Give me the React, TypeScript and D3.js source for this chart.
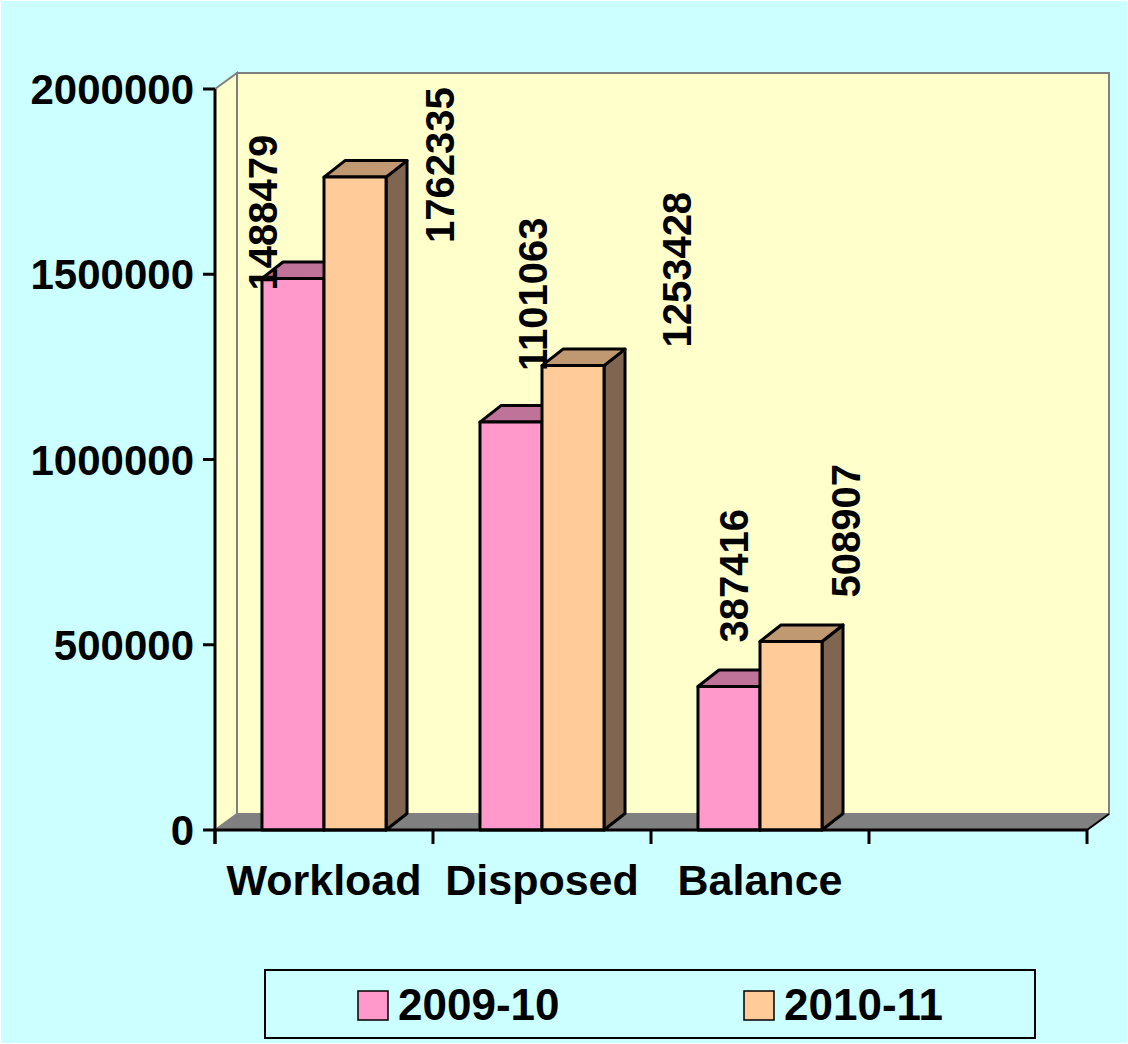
import React from 'react';
import * as d3 from 'd3';

const categories = ['Workload', 'Disposed', 'Balance'];
const seriesNames = ['2009-10', '2010-11'];
const values2009 = [1488479, 1101063, 387416];
const values2010 = [1762335, 1253428, 508907];
const yTicks = [0, 500000, 1000000, 1500000, 2000000];

// Excel placed the rotated value labels unevenly; offsets from each bar's front-top-left corner
const labelNudge = [
  [[15, 12], [130, 66]],
  [[67, -51], [149, -18]],
  [[50, -44], [100, -44]],
];

const W = 1128;
const H = 1044;
const font = '"Liberation Sans", Arial, sans-serif';
const fills = ['#FF99CC', '#FFCC99'];
const tops = ['#C07399', '#C09973'];
const sides = ['#804D66', '#806650'];

export default function App() {
  const margin = { left: 215, right: 41, top: 89, bottom: 214 };
  const x0 = margin.left;
  const x1 = W - margin.right;
  const yBase = H - margin.bottom;
  const wallDx = 22, wallDy = -16;
  const barDx = 21, barDy = -16.5;

  const y = d3.scaleLinear().domain([0, 2000000]).range([yBase, margin.top]);
  const slots = d3.range(categories.length + 1);
  const x = d3.scaleBand<number>().domain(slots).range([x0, x1]);
  const groupW = x.bandwidth() * 0.569;
  const xi = d3.scaleBand<number>().domain([0, 1]).range([0, groupW]);
  const seriesVals = [values2009, values2010];

  const yTop = y(2000000);
  const pts = (a: number[][]) => a.map(p => p.join(',')).join(' ');

  return (
    <svg width={W} height={H} style={{ position: 'fixed', left: 0, top: 0 }} fontFamily={font}>
      <rect x={0} y={0} width={W} height={H} fill="#CCFFFF" stroke="#ffffff" strokeWidth={2} />

      {/* walls and floor */}
      <polygon
        points={pts([[x0, yTop], [x0 + wallDx, yTop + wallDy], [x0 + wallDx, yBase + wallDy], [x0, yBase]])}
        fill="#FFFFCC" stroke="#808080" strokeWidth={2} />
      <rect x={x0 + wallDx} y={yTop + wallDy} width={x1 - x0} height={yBase - yTop}
        fill="#FFFFCC" stroke="#808080" strokeWidth={2} />
      <polygon
        points={pts([[x0, yBase], [x0 + wallDx, yBase + wallDy], [x1 + wallDx, yBase + wallDy], [x1, yBase]])}
        fill="#808080" stroke="#808080" strokeWidth={1} />
      <line x1={x1} y1={yBase} x2={x1 + wallDx} y2={yBase + wallDy} stroke="#000" strokeWidth={2} />

      {/* bars */}
      {categories.map((c, ci) => {
        const gx = (x(ci) as number) + (x.bandwidth() - groupW) / 2;
        return (
          <g key={c}>
            {seriesVals.map((vals, si) => {
              const bx = gx + (xi(si) as number);
              const bw = xi.bandwidth();
              const by = y(vals[ci]);
              return (
                <g key={si} stroke="#000" strokeWidth={3} strokeLinejoin="round">
                  <polygon fill={sides[si]}
                    points={pts([[bx + bw, by], [bx + bw + barDx, by + barDy], [bx + bw + barDx, yBase + barDy], [bx + bw, yBase]])} />
                  <polygon fill={tops[si]}
                    points={pts([[bx, by], [bx + barDx, by + barDy], [bx + bw + barDx, by + barDy], [bx + bw, by]])} />
                  <rect x={bx} y={by} width={bw} height={yBase - by} fill={fills[si]} />
                </g>
              );
            })}
          </g>
        );
      })}

      {/* value labels */}
      {categories.map((c, ci) => {
        const gx = (x(ci) as number) + (x.bandwidth() - groupW) / 2;
        return seriesVals.map((vals, si) => {
          const bx = gx + (xi(si) as number) + labelNudge[ci][si][0];
          const by = y(vals[ci]) + labelNudge[ci][si][1];
          return (
            <text key={c + si} transform={`translate(${bx},${by}) rotate(-90)`}
              fontSize={40} fontWeight="bold" fill="#000">{vals[ci]}</text>
          );
        });
      })}

      {/* y axis */}
      <line x1={x0} y1={yTop} x2={x0} y2={yBase + 14} stroke="#000" strokeWidth={3} />
      {yTicks.map(t => (
        <g key={t}>
          <line x1={x0 - 12} x2={x0} y1={y(t)} y2={y(t)} stroke="#000" strokeWidth={3} />
          <text x={194} y={y(t) + 15} textAnchor="end" fontSize={42} fontWeight="bold">{t}</text>
        </g>
      ))}

      {/* category axis */}
      <line x1={x0} y1={yBase} x2={x1} y2={yBase} stroke="#000" strokeWidth={3} />
      {slots.concat([slots.length]).map(i => {
        const tx = i < slots.length ? (x(i) as number) : x1;
        return <line key={i} x1={tx} x2={tx} y1={yBase} y2={yBase + 14} stroke="#000" strokeWidth={3} />;
      })}
      {categories.map((c, ci) => (
        <text key={c} x={(x(ci) as number) + x.bandwidth() / 2} y={895} textAnchor="middle"
          fontSize={43} fontWeight="bold">{c}</text>
      ))}

      {/* legend */}
      <rect x={265} y={970} width={770} height={68} fill="none" stroke="#000" strokeWidth={2} />
      {seriesNames.map((s, si) => {
        const lx = si === 0 ? 358 : 744;
        return (
          <g key={s}>
            <rect x={lx} y={991} width={30} height={29} fill={fills[si]} stroke="#000" strokeWidth={1.5} />
            <text x={lx + 40} y={1020} fontSize={44} fontWeight="bold">{s}</text>
          </g>
        );
      })}
    </svg>
  );
}
